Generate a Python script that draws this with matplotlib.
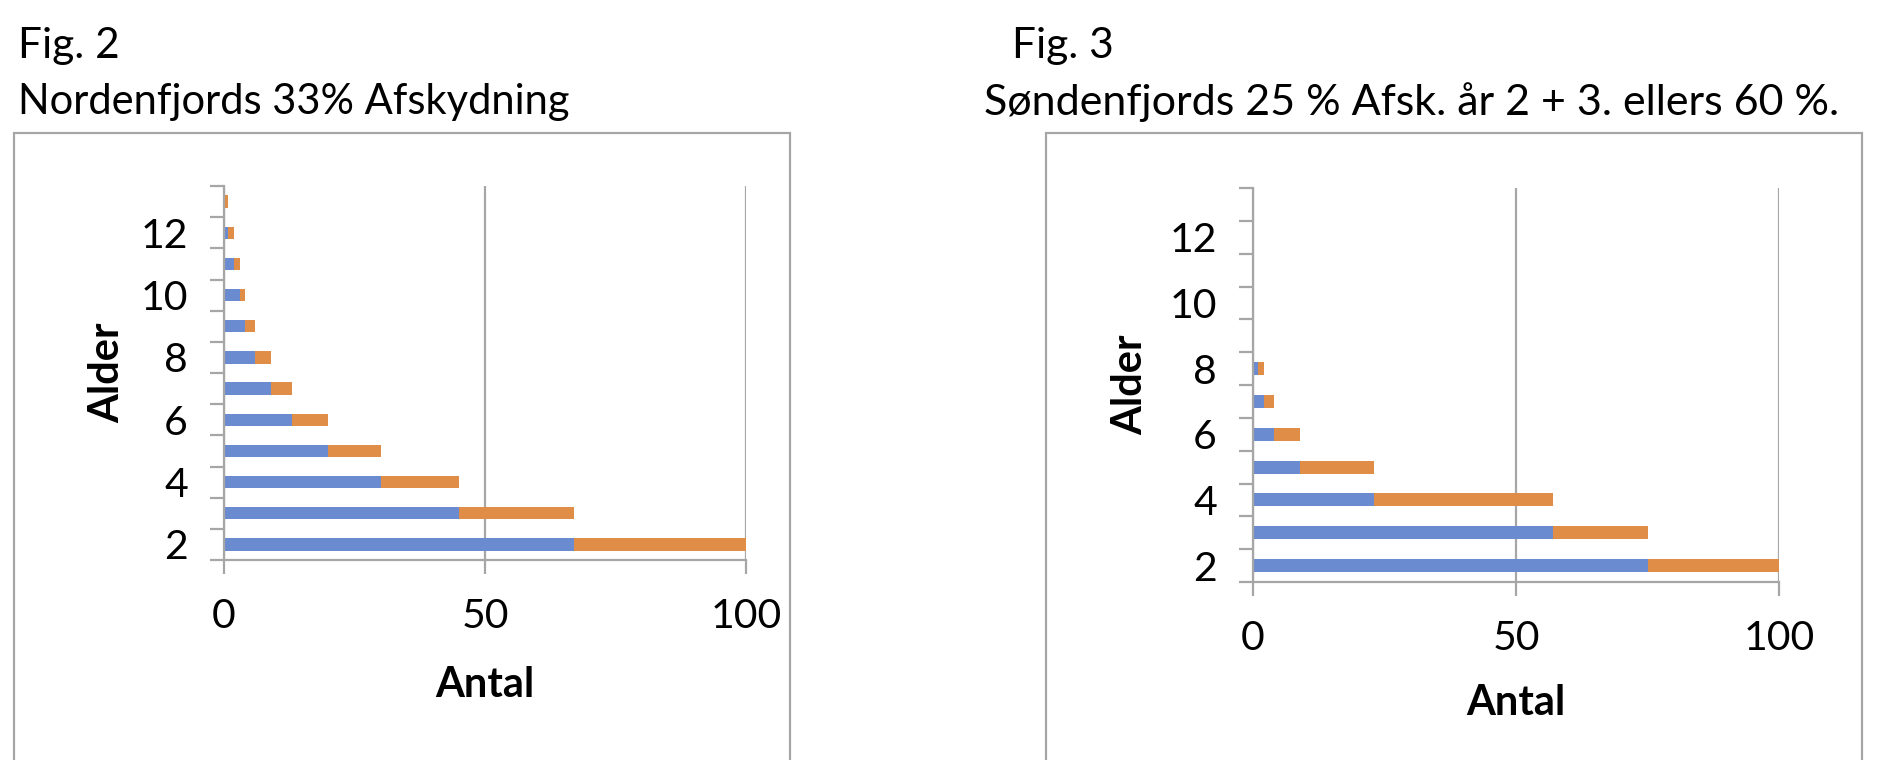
import matplotlib
matplotlib.use("Agg")
import matplotlib.pyplot as plt
from matplotlib.patches import Rectangle
from matplotlib.ticker import FixedLocator

plt.rcParams['font.family'] = ['Lato', 'DejaVu Sans']

# ---- data ----
ages = [2, 3, 4, 5, 6, 7, 8, 9, 10, 11, 12, 13]
age_ticks = [2, 4, 6, 8, 10, 12]
x_ticks = [0, 50, 100]

# Fig. 2 (Nordenfjords, 33 % afskydning)
nord_remain = [67, 45, 30, 20, 13, 9, 6, 4, 3, 2, 0.8, 0]
nord_shot = [33, 22, 15, 10, 7, 4, 3, 2, 1, 1, 1.2, 0.75]

# Fig. 3 (Søndenfjords)
sond_ages = [2, 3, 4, 5, 6, 7, 8]
sond_remain = [75, 57, 23, 9, 4, 2, 1]
sond_shot = [25, 18, 34, 14, 5, 2, 1]

fig_titles = ["Fig. 2", "Fig. 3"]
chart_titles = ["Nordenfjords 33% Afskydning",
                "Søndenfjords 25 % Afsk. år 2 + 3. ellers 60 %."]
xlabel = "Antal"
ylabel = "Alder"

BLUE = "#6A8BCF"
ORANGE = "#DF8D47"
GRAY = "#A6A6A6"

W, H = 1877, 760
fig = plt.figure(figsize=(W / 100, H / 100), dpi=100)


def fx(px):
    return px / W


def fy(py):
    return 1 - py / H


# outer chart boxes
fig.patches.append(Rectangle((fx(14), fy(800)), fx(790) - fx(14), fy(133) - fy(800),
                             transform=fig.transFigure, fill=False,
                             edgecolor=GRAY, linewidth=1.6))
fig.patches.append(Rectangle((fx(1046), fy(800)), fx(1862) - fx(1046), fy(133) - fy(800),
                             transform=fig.transFigure, fill=False,
                             edgecolor=GRAY, linewidth=1.6))

# titles
fig.text(fx(18), fy(46), fig_titles[0], fontsize=30.5, va='center', ha='left')
fig.text(fx(18), fy(102), chart_titles[0], fontsize=30, va='center', ha='left')
fig.text(fx(1012), fy(46), fig_titles[1], fontsize=30.5, va='center', ha='left')
fig.text(fx(984), fy(102), chart_titles[1], fontsize=31, va='center', ha='left')


def make_axes(left, right, top, bottom):
    return fig.add_axes([fx(left), fy(bottom), fx(right) - fx(left), fy(top) - fy(bottom)])


def style(ax, lab_x, lab_y):
    ax.set_xlim(0, 100)
    ax.set_ylim(1.5, 13.5)
    for s in ['top', 'right']:
        ax.spines[s].set_visible(False)
    for s in ['left', 'bottom']:
        ax.spines[s].set_color(GRAY)
        ax.spines[s].set_linewidth(1.6)
    ax.set_xticks(x_ticks)
    ax.set_xticklabels([str(v) for v in x_ticks])
    ax.set_yticks(age_ticks)
    ax.set_yticklabels([str(v) for v in age_ticks])
    ax.yaxis.set_minor_locator(FixedLocator([a + 0.5 for a in [1] + ages]))
    ax.tick_params(axis='y', which='major', length=0, pad=26, labelsize=29.5)
    ax.tick_params(axis='y', which='minor', length=10, width=1.6, color=GRAY, direction='out')
    ax.tick_params(axis='x', which='major', length=10, width=1.6, color=GRAY,
                   direction='out', pad=17, labelsize=29.5)
    ax.xaxis.grid(True, color=GRAY, linewidth=1.6)
    ax.set_axisbelow(True)
    ax.set_xlabel(xlabel, fontsize=30, fontweight='bold')
    ax.set_ylabel(ylabel, fontsize=30, fontweight='bold')
    ax.xaxis.set_label_coords(0.5, lab_x)
    ax.yaxis.set_label_coords(lab_y, 0.5)


ax1 = make_axes(224, 746, 186, 560)
ax1.barh(ages, nord_remain, height=0.4, color=BLUE)
ax1.barh(ages, nord_shot, height=0.4, left=nord_remain, color=ORANGE)
style(ax1, -0.284, -0.188)

ax2 = make_axes(1253, 1779, 188, 582)
ax2.barh(sond_ages, sond_remain, height=0.4, color=BLUE)
ax2.barh(sond_ages, sond_shot, height=0.4, left=sond_remain, color=ORANGE)
style(ax2, -0.259, -0.198)

fig.savefig("out.png", dpi=100)
